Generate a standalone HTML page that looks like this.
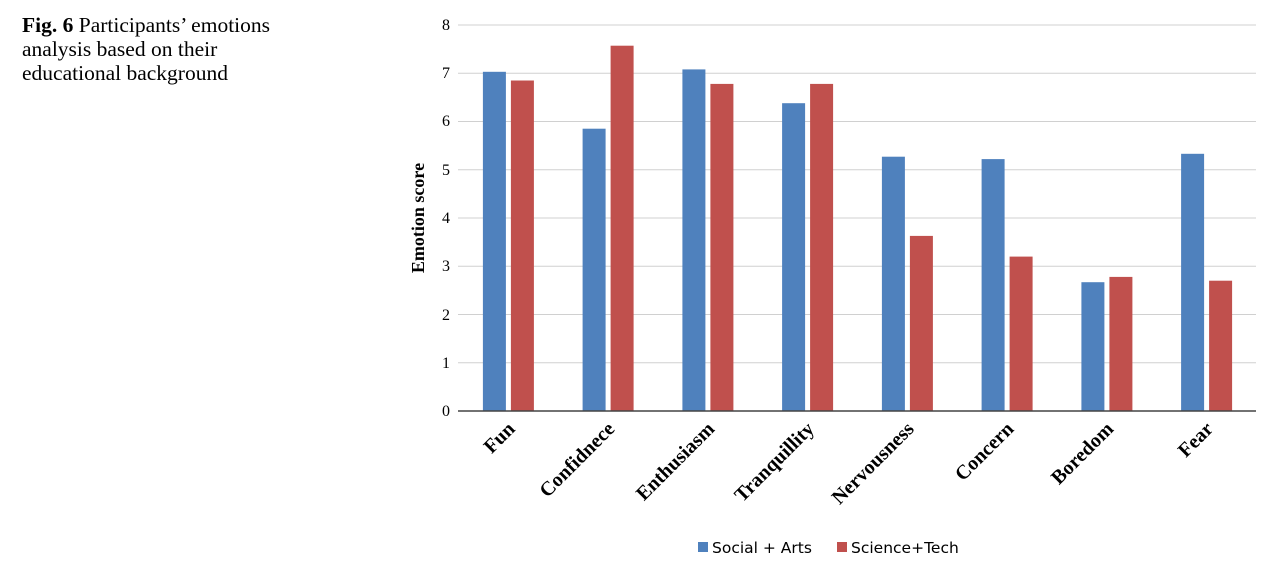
<!DOCTYPE html><html><head><style>body{margin:0;background:#fff}</style></head><body>
<svg width="1276" height="577" xmlns="http://www.w3.org/2000/svg" font-family="Liberation Serif, serif">
<text x="22" y="32" font-size="21.5"><tspan font-weight="bold">Fig. 6</tspan>  Participants’ emotions</text>
<text x="22" y="56" font-size="21.5">analysis based on their</text>
<text x="22" y="80" font-size="21.5">educational background</text>
<g stroke="#d0d0d0" stroke-width="1">
<line x1="458" x2="1256" y1="25" y2="25"/><line x1="458" x2="1256" y1="73.3" y2="73.3"/><line x1="458" x2="1256" y1="121.5" y2="121.5"/><line x1="458" x2="1256" y1="169.8" y2="169.8"/><line x1="458" x2="1256" y1="218" y2="218"/><line x1="458" x2="1256" y1="266.3" y2="266.3"/><line x1="458" x2="1256" y1="314.5" y2="314.5"/><line x1="458" x2="1256" y1="362.8" y2="362.8"/>
</g>
<g font-size="16" text-anchor="end">
<text x="450" y="30">8</text><text x="450" y="78">7</text><text x="450" y="126">6</text><text x="450" y="175">5</text><text x="450" y="223">4</text><text x="450" y="271">3</text><text x="450" y="320">2</text><text x="450" y="368">1</text><text x="450" y="416">0</text>
</g>
<text transform="translate(424,218) rotate(-90)" text-anchor="middle" font-size="18" font-weight="bold">Emotion score</text>
<g fill="#4f81bd">
<rect x="482.9" y="71.8" width="23" height="339.2"/>
<rect x="582.6" y="128.7" width="23" height="282.3"/>
<rect x="682.4" y="69.4" width="23" height="341.6"/>
<rect x="782.1" y="103.2" width="23" height="307.8"/>
<rect x="881.9" y="156.7" width="23" height="254.3"/>
<rect x="981.6" y="159.1" width="23" height="251.9"/>
<rect x="1081.4" y="282.2" width="23" height="128.8"/>
<rect x="1181.1" y="153.8" width="23" height="257.2"/>
</g>
<g fill="#c0504d">
<rect x="510.9" y="80.5" width="23" height="330.5"/>
<rect x="610.6" y="45.7" width="23" height="365.3"/>
<rect x="710.4" y="83.9" width="23" height="327.1"/>
<rect x="810.1" y="83.9" width="23" height="327.1"/>
<rect x="909.9" y="235.9" width="23" height="175.1"/>
<rect x="1009.6" y="256.6" width="23" height="154.4"/>
<rect x="1109.4" y="276.9" width="23" height="134.1"/>
<rect x="1209.1" y="280.7" width="23" height="130.3"/>
</g>
<line x1="458" x2="1256" y1="411" y2="411" stroke="#444" stroke-width="1.5"/>
<g font-size="20" font-weight="bold" text-anchor="end">
<text transform="translate(516,430) rotate(-45)">Fun</text>
<text transform="translate(615.7,430) rotate(-45)">Confidnece</text>
<text transform="translate(715.5,430) rotate(-45)">Enthusiasm</text>
<text transform="translate(815.2,430) rotate(-45)">Tranquillity</text>
<text transform="translate(915,430) rotate(-45)">Nervousness</text>
<text transform="translate(1014.7,430) rotate(-45)">Concern</text>
<text transform="translate(1114.5,430) rotate(-45)">Boredom</text>
<text transform="translate(1214.2,430) rotate(-45)">Fear</text>
</g>
<rect x="698" y="542" width="10" height="10" fill="#4f81bd"/><text x="712" y="553" font-family="DejaVu Sans, sans-serif" font-size="15.5">Social + Arts</text>
<rect x="837" y="542" width="10" height="10" fill="#c0504d"/><text x="851" y="553" font-family="DejaVu Sans, sans-serif" font-size="15.5">Science+Tech</text>
</svg></body></html>
